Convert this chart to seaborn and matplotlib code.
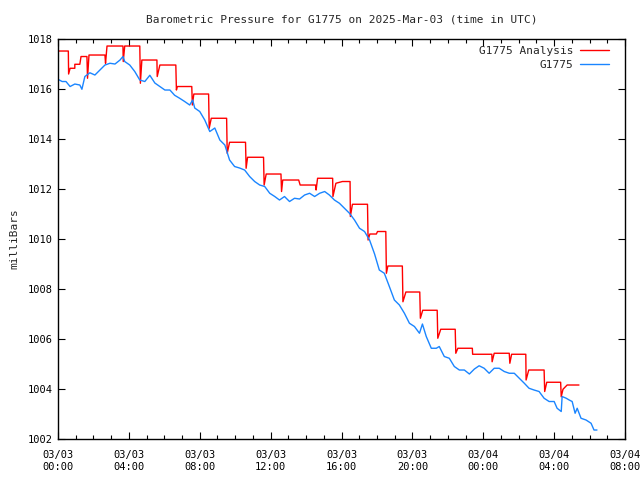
import pandas as pd
import numpy as np
import seaborn as sns
import matplotlib
matplotlib.use("Agg")
import matplotlib.pyplot as plt
import matplotlib.dates as mdates
from matplotlib.ticker import MultipleLocator, FormatStrFormatter

# --- data (minutes after 2025-03-03 00:00 UTC, pressure in mb) ---
start = pd.Timestamp("2025-03-03 00:00")

obs_minutes = [0, 14, 27, 41, 57, 74, 81, 91, 108, 125,
               142, 159, 176, 193, 210, 220, 226,
               243, 260, 277, 294, 311, 328, 345, 362, 379, 395, 412, 429, 446,
               456, 463,
               480, 497, 514, 531, 548, 565, 581, 598, 615, 632, 649, 666, 683, 700, 717,
               734, 750, 767, 784, 801, 818, 835, 852, 869, 886, 903, 919, 936, 953, 970,
               987, 1004, 1021, 1038, 1055, 1072, 1088, 1105, 1122, 1139, 1156, 1173, 1190,
               1207, 1224,
               1234, 1247, 1264, 1281, 1291,
               1308, 1325, 1342, 1359, 1376, 1393, 1410, 1426, 1443, 1460, 1477, 1494, 1511,
               1528, 1545, 1562, 1579, 1595, 1612, 1629, 1646, 1663, 1680,
               1690, 1704, 1707, 1721, 1731, 1741, 1751, 1758, 1771, 1788, 1805, 1815, 1825]
obs_values = [1016.39, 1016.30, 1016.30, 1016.10, 1016.20, 1016.16, 1015.99, 1016.50, 1016.65, 1016.56,
              1016.76, 1016.96, 1017.03, 1017.00, 1017.16, 1017.30, 1017.10,
              1016.96, 1016.70, 1016.36, 1016.30, 1016.55, 1016.24, 1016.10, 1015.96, 1015.96,
              1015.75, 1015.63, 1015.50, 1015.36,
              1015.56, 1015.24,
              1015.10, 1014.76, 1014.30, 1014.44, 1013.96, 1013.76, 1013.16, 1012.90, 1012.84,
              1012.76, 1012.50, 1012.30, 1012.16, 1012.10, 1011.83, 1011.70, 1011.56, 1011.70,
              1011.50, 1011.63, 1011.60, 1011.76, 1011.83, 1011.70, 1011.83, 1011.90, 1011.76,
              1011.56, 1011.43, 1011.23, 1011.03, 1010.76, 1010.43, 1010.30, 1009.96, 1009.40,
              1008.76, 1008.63, 1008.10, 1007.56, 1007.36, 1007.03, 1006.63, 1006.50, 1006.23,
              1006.60, 1006.10,
              1005.63, 1005.63, 1005.70,
              1005.30, 1005.23, 1004.90, 1004.76, 1004.76, 1004.60, 1004.80, 1004.93, 1004.83,
              1004.63, 1004.83, 1004.83, 1004.70, 1004.63, 1004.63, 1004.43, 1004.23, 1004.03,
              1003.96, 1003.90, 1003.63, 1003.50, 1003.50,
              1003.23, 1003.10, 1003.70, 1003.63, 1003.56, 1003.50, 1003.03, 1003.23, 1002.83,
              1002.76, 1002.63, 1002.36, 1002.36]

ana_minutes = [0, 35, 36, 41, 57, 57, 74, 78, 98, 100, 105, 159, 161, 166, 220, 221, 226,
               277, 279, 284, 335, 336, 345, 399, 401, 404, 453, 455, 460, 510, 512, 519,
               571, 573, 581, 635, 637, 642, 696, 698, 705, 755, 757, 761, 815, 820,
               872, 874, 879, 930, 931, 941, 963, 989, 990, 997, 1048, 1050, 1056, 1078,
               1082, 1110, 1112, 1117, 1166, 1168, 1178, 1225, 1227, 1235, 1284, 1286, 1296,
               1345, 1347, 1354, 1403, 1404, 1469, 1470, 1477, 1528, 1530, 1536, 1584, 1585,
               1594, 1646, 1648, 1655, 1702, 1704, 1710, 1724, 1764]
ana_values = [1017.52, 1017.52, 1016.60, 1016.83, 1016.83, 1016.99, 1016.99, 1017.30, 1017.30,
              1016.43, 1017.36, 1017.36, 1017.03, 1017.72, 1017.72, 1017.10, 1017.72,
              1017.72, 1016.23, 1017.16, 1017.16, 1016.50, 1016.96, 1016.96, 1015.96, 1016.10,
              1016.10, 1015.36, 1015.80, 1015.80, 1014.43, 1014.83, 1014.83, 1013.43, 1013.87,
              1013.87, 1012.83, 1013.27, 1013.27, 1012.16, 1012.60, 1012.60, 1011.90, 1012.36,
              1012.36, 1012.16, 1012.16, 1011.96, 1012.43, 1012.43, 1011.70, 1012.23, 1012.30,
              1012.30, 1010.90, 1011.39, 1011.39, 1009.96, 1010.20, 1010.20, 1010.30, 1010.30,
              1008.63, 1008.92, 1008.92, 1007.49, 1007.88, 1007.88, 1006.83, 1007.15, 1007.15,
              1006.03, 1006.39, 1006.39, 1005.43, 1005.63, 1005.63, 1005.39, 1005.39, 1005.09,
              1005.43, 1005.43, 1005.03, 1005.39, 1005.39, 1004.36, 1004.76, 1004.76, 1003.90,
              1004.27, 1004.27, 1003.69, 1003.99, 1004.16, 1004.16]

obs = pd.DataFrame({"time": start + pd.to_timedelta(obs_minutes, unit="min"),
                    "mb": obs_values})
ana = pd.DataFrame({"time": start + pd.to_timedelta(ana_minutes, unit="min"),
                    "mb": ana_values})

sns.set_style("ticks")
plt.rcParams["font.family"] = ["DejaVu Sans Mono", "DejaVu Sans"]
plt.rcParams["font.size"] = 8

fig = plt.figure(figsize=(6.4, 4.8), dpi=100)
ax = fig.add_axes([0.0906, 0.0854, 0.886, 0.8333])

sns.lineplot(data=ana, x="time", y="mb", ax=ax, color="#ff0000", lw=1.0,
             sort=False, estimator=None, label="G1775 Analysis")
sns.lineplot(data=obs, x="time", y="mb", ax=ax, color="#1a85ff", lw=1.0,
             sort=False, estimator=None, label="G1775")

ax.set_xlim(start, start + pd.Timedelta(hours=32))
ax.set_ylim(1002, 1018)
ax.xaxis.set_major_locator(mdates.HourLocator(byhour=range(0, 24, 4)))
ax.xaxis.set_minor_locator(mdates.HourLocator())
ax.xaxis.set_major_formatter(mdates.DateFormatter("%m/%d\n%H:%M"))
ax.yaxis.set_major_locator(MultipleLocator(2))
ax.yaxis.set_major_formatter(FormatStrFormatter("%d"))

ax.tick_params(which="both", direction="in", top=True, right=True, colors="black")
ax.tick_params(which="major", length=5, width=0.8, labelsize=7.5)
ax.tick_params(which="minor", length=3, width=0.8)
ax.tick_params(axis="x", pad=8)
for s in ax.spines.values():
    s.set_linewidth(1.0)
    s.set_color("black")

ax.set_xlabel("")
ax.set_ylabel("milliBars", fontsize=8, labelpad=6)
ax.set_title("Barometric Pressure for G1775 on 2025-Mar-03 (time in UTC)", fontsize=8, pad=12)

leg = ax.legend(loc="upper right", bbox_to_anchor=(0.972, 0.982), frameon=False,
                markerfirst=False, fontsize=8, handlelength=2.6, borderaxespad=0,
                borderpad=0, labelspacing=0.3, handletextpad=0.6)

fig.savefig("out.png", dpi=100)
